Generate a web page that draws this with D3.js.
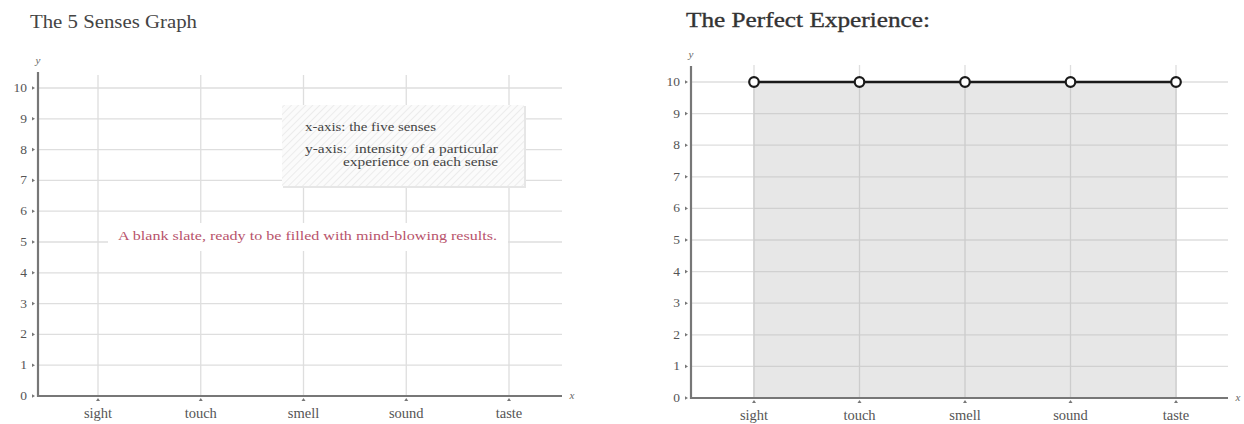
<!DOCTYPE html>
<html><head><meta charset="utf-8">
<script src="https://cdn.jsdelivr.net/npm/d3@7/dist/d3.min.js"></script>
<style>
body{margin:0;background:#fff;}
svg{display:block;}
text{font-family:"Liberation Serif","DejaVu Serif",serif;}
</style></head><body>
<svg id="c" width="1244" height="424"></svg>
<script>
const categories = ["sight","touch","smell","sound","taste"];
const yTicks = [0,1,2,3,4,5,6,7,8,9,10];
const perfectValues = [10,10,10,10,10];
const titles = ["The 5 Senses Graph","The Perfect Experience:"];
const legendLines = ["x-axis: the five senses","y-axis:  intensity of a particular","experience on each sense"];
const blankNote = "A blank slate, ready to be filled with mind-blowing results.";

const svg = d3.select("#c");
const defs = svg.append("defs");
const pat = defs.append("pattern").attr("id","hatch").attr("patternUnits","userSpaceOnUse")
  .attr("width",5).attr("height",5).attr("patternTransform","rotate(45)");
pat.append("rect").attr("width",5).attr("height",5).attr("fill","#fbfbfb");
pat.append("line").attr("x1",0).attr("y1",0).attr("x2",0).attr("y2",5).attr("stroke","#e2e2e2").attr("stroke-width",1.2);

function fitText(sel, w){
  return sel.attr("textLength",w).attr("lengthAdjust","spacingAndGlyphs");
}

function panel(cfg){
  const g = svg.append("g");
  const x = d3.scalePoint().domain(categories).range([cfg.xFirst,cfg.xLast]);
  const y = d3.scaleLinear().domain([0,10]).range([cfg.yBottom,cfg.yTop]);
  fitText(g.append("text").attr("x",cfg.titleX).attr("y",cfg.titleY).attr("font-size",cfg.titleSize)
    .attr("fill",cfg.titleColor).attr("stroke",cfg.titleColor).attr("stroke-width",cfg.titleStroke)
    .text(cfg.title), cfg.titleW);
  g.append("g").selectAll("line").data(yTicks.filter(d=>d>0)).join("line")
    .attr("x1",cfg.axisX).attr("x2",cfg.axisEnd).attr("y1",d=>y(d)).attr("y2",d=>y(d))
    .attr("stroke","#dedede").attr("stroke-width",1.3);
  g.append("g").selectAll("line").data(categories).join("line")
    .attr("x1",d=>x(d)).attr("x2",d=>x(d)).attr("y1",cfg.gridTop).attr("y2",cfg.yBottom)
    .attr("stroke","#dedede").attr("stroke-width",1.3);
  if(cfg.values){
    const pts = categories.map((c,i)=>({c,v:cfg.values[i]}));
    g.append("path").datum(pts)
      .attr("d",d3.area().x(d=>x(d.c)).y0(y(0)).y1(d=>y(d.v)))
      .attr("fill","#e4e4e4").attr("opacity",0.9);
    g.append("g").selectAll("line").data(yTicks.filter(d=>d>0)).join("line")
      .attr("x1",x(categories[0])).attr("x2",x(categories[categories.length-1])).attr("y1",d=>y(d)).attr("y2",d=>y(d))
      .attr("stroke","#d0d0d0").attr("stroke-width",1.3);
    g.append("g").selectAll("line").data(categories).join("line")
      .attr("x1",d=>x(d)).attr("x2",d=>x(d)).attr("y1",y(10)).attr("y2",cfg.yBottom)
      .attr("stroke","#cdcdcd").attr("stroke-width",1.3);
  }
  g.append("line").attr("x1",cfg.axisX).attr("x2",cfg.axisX).attr("y1",cfg.axisTop).attr("y2",cfg.yBottom+1)
    .attr("stroke","#777").attr("stroke-width",2.2);
  g.append("line").attr("x1",cfg.axisX-1).attr("x2",cfg.axisEnd).attr("y1",cfg.yBottom).attr("y2",cfg.yBottom)
    .attr("stroke","#777").attr("stroke-width",2.2);
  const yt = g.append("g").selectAll("g").data(yTicks).join("g");
  yt.append("text").attr("x",cfg.axisX-11).attr("y",d=>y(d)+4).attr("text-anchor","end")
    .attr("font-size",13.5).attr("fill","#555").text(d=>d);
  yt.append("path").attr("d",d=>`M${cfg.axisX-6},${y(d)-1.8}L${cfg.axisX-3},${y(d)}L${cfg.axisX-6},${y(d)+1.8}Z`)
    .attr("fill","#777");
  const xt = g.append("g").selectAll("g").data(categories).join("g");
  xt.append("text").attr("x",d=>x(d)).attr("y",cfg.yBottom+cfg.xLabelDy).attr("text-anchor","middle")
    .attr("font-size",14.5).attr("fill","#555").text(d=>d);
  xt.append("path").attr("d",d=>`M${x(d)-2},${cfg.yBottom+5}L${x(d)},${cfg.yBottom+2}L${x(d)+2},${cfg.yBottom+5}Z`)
    .attr("fill","#777");
  g.append("text").attr("x",cfg.axisX).attr("y",cfg.axisTop-8).attr("text-anchor","middle")
    .attr("font-size",11).attr("font-style","italic").attr("fill","#666").text("y");
  g.append("text").attr("x",cfg.axisEnd+10).attr("y",cfg.yBottom+3).attr("text-anchor","middle")
    .attr("font-size",11).attr("font-style","italic").attr("fill","#666").text("x");
  if(cfg.values){
    const pts = categories.map((c,i)=>({c,v:cfg.values[i]}));
    g.append("path").datum(pts).attr("d",d3.line().x(d=>x(d.c)).y(d=>y(d.v)))
      .attr("fill","none").attr("stroke","#1a1a1a").attr("stroke-width",2.6);
    g.selectAll("circle").data(pts).join("circle").attr("cx",d=>x(d.c)).attr("cy",d=>y(d.v)).attr("r",4.8)
      .attr("fill","#fff").attr("stroke","#1a1a1a").attr("stroke-width",2.2);
  }
  return {g,x,y};
}

const L = panel({title:titles[0],titleX:30,titleY:28,titleSize:19,titleW:167,titleColor:"#444",titleStroke:0,
  axisX:38,axisTop:72,axisEnd:562,gridTop:75,xFirst:98,xLast:509,yBottom:396,yTop:88,xLabelDy:22});
L.g.append("rect").attr("x",283).attr("y",106).attr("width",243).attr("height",82).attr("fill","#e6e6e6");
L.g.append("rect").attr("x",282).attr("y",105).attr("width",242).attr("height",81).attr("fill","url(#hatch)");
fitText(L.g.append("text").attr("x",305).attr("y",131).attr("font-size",12).attr("fill","#444").text(legendLines[0]),131);
fitText(L.g.append("text").attr("x",305).attr("y",153).attr("font-size",12).attr("fill","#444").attr("xml:space","preserve").text(legendLines[1]),193);
fitText(L.g.append("text").attr("x",343).attr("y",166).attr("font-size",12).attr("fill","#444").text(legendLines[2]),155);
L.g.append("rect").attr("x",108).attr("y",223).attr("width",400).attr("height",28).attr("fill","#fff");
fitText(L.g.append("text").attr("x",118).attr("y",240).attr("font-size",13)
  .attr("fill","#b8536b").text(blankNote),379);

panel({title:titles[1],titleX:686,titleY:27,titleSize:21,titleW:244,titleColor:"#333",titleStroke:0.35,
  values:perfectValues,axisX:691,axisTop:66,axisEnd:1228,gridTop:65,
  xFirst:754,xLast:1176,yBottom:398,yTop:82,xLabelDy:22});
</script></body></html>
